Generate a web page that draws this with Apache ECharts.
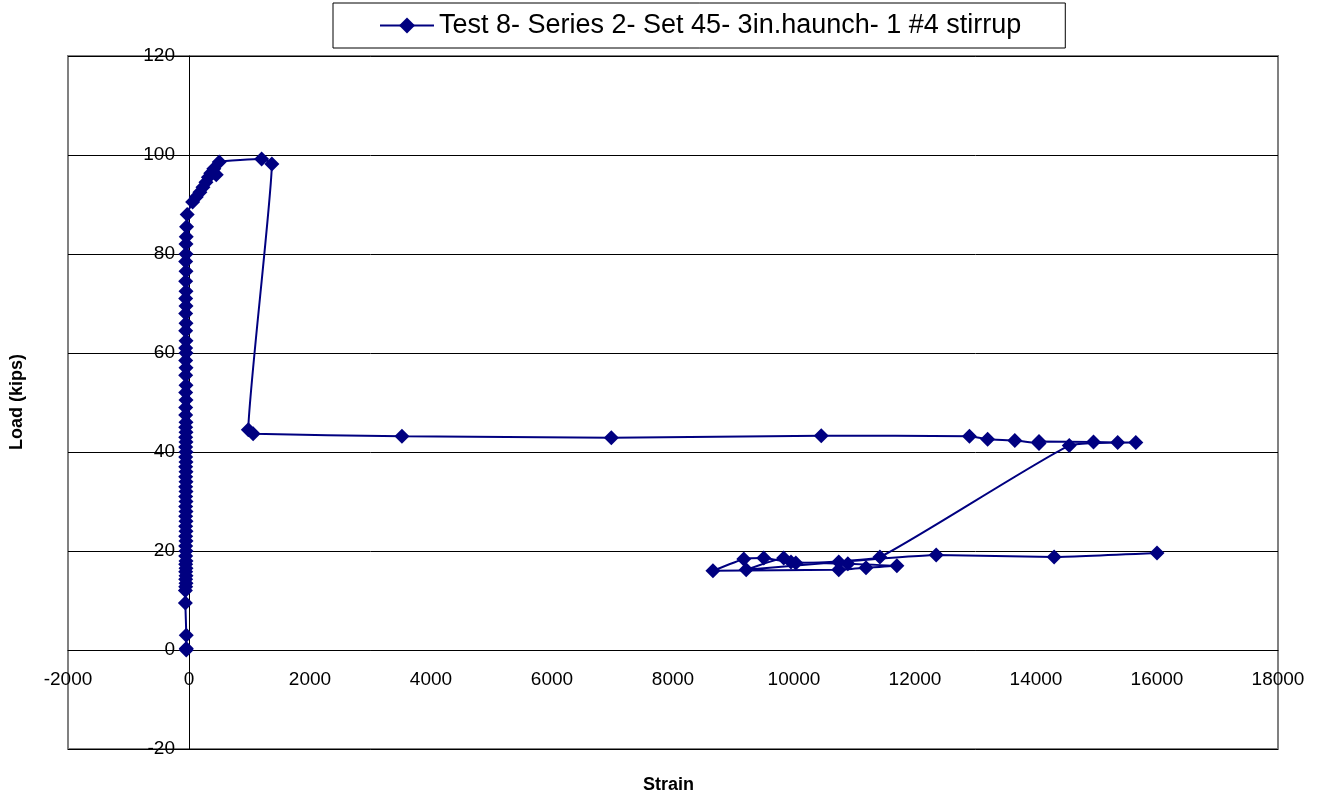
<!DOCTYPE html>
<html>
<head>
<meta charset="utf-8">
<title>Load vs Strain</title>
<script src="https://cdn.jsdelivr.net/npm/echarts@6/dist/echarts.min.js"></script>
<style>
  html, body { margin: 0; padding: 0; background: #fff; }
  #chart { width: 1323px; height: 802px; }
</style>
</head>
<body>
<div id="chart"></div>
<script>
// Strain gauge readings (microstrain) and applied load (kips), in recording order
const strain = [
  -45, -45, -45, -60, -60, -55, -50, -55, -50, -55, -50, -55, -50, -55, -50, -55,
  -50, -55, -50, -55, -50, -55, -50, -55, -50, -55, -50, -55, -50, -55, -50, -55,
  -50, -55, -50, -55, -50, -55, -50, -55, -50, -55, -55, -50, -55, -50, -55, -50,
  -55, -50, -55, -50, -55, -50, -55, -50, -55, -50, -55, -50, -55, -50, -50, -45,
  -40, -30,
  60, 120, 180, 230, 280, 320, 360, 410, 450, 500,
  1200, 1370, 980, 1060, 3520, 6980, 10450, 12900, 13200, 13650, 14050, 14050,
  14950, 15350, 15650, 14550,
  11420, 10030, 9500, 9170, 8660, 10740, 11190, 11700, 10890, 9950, 9830, 9210,
  10740, 12350, 14300, 16000
];
const load = [
  0, 0.3, 3.0, 9.5, 12.0, 12.8, 13.5, 14.3, 15.0, 15.8, 16.5, 17.3, 18.0, 19.0, 20.0, 21.0,
  22.0, 23.0, 24.0, 25.0, 26.0, 27.0, 28.0, 29.0, 30.0, 31.0, 32.0, 33.0, 34.0, 35.0, 36.0, 37.0,
  38.0, 39.0, 40.0, 41.0, 42.0, 43.0, 44.0, 45.0, 46.0, 47.5, 49.0, 50.5, 52.0, 53.5, 55.5, 57.0,
  58.5, 60.0, 61.0, 62.5, 64.5, 66.0, 68.0, 69.5, 71.0, 72.5, 74.5, 76.5, 78.5, 80.0, 82.0, 83.5,
  85.5, 88.0,
  90.5, 91.5, 92.5, 93.5, 94.5, 95.5, 96.3, 97.2, 96.0, 98.6,
  99.2, 98.2, 44.5, 43.7, 43.2, 42.9, 43.3, 43.2, 42.6, 42.3, 41.7, 42.1,
  42.0, 41.9, 41.9, 41.3,
  18.8, 17.6, 18.6, 18.4, 16.0, 16.2, 16.6, 17.0, 17.4, 17.8, 18.6, 16.2,
  17.8, 19.2, 18.8, 19.6
];

const seriesName = 'Test 8- Series 2- Set 45- 3in.haunch- 1 #4 stirrup';
const xTicks = { min: -2000, max: 18000, step: 2000 };
const yTicks = { min: -20, max: 120, step: 20 };

const points = strain.map((s, i) => [s, load[i]]);
const navy = '#000080';
const font = '"Liberation Sans", Arial, sans-serif';

// plot box geometry; axes cross at (0, 0) inside it
const gridBox = { left: 68, right: 45, top: 56, bottom: 53 };
const plotW = 1323 - gridBox.left - gridBox.right;
const plotH = 802 - gridBox.top - gridBox.bottom;
const yAxisShift = plotW * (0 - xTicks.min) / (xTicks.max - xTicks.min);
const xAxisShift = plotH * (0 - yTicks.min) / (yTicks.max - yTicks.min);

const chart = echarts.init(document.getElementById('chart'), null, { renderer: 'canvas' });
chart.setOption({
  animation: false,
  backgroundColor: '#ffffff',
  textStyle: { fontFamily: font },
  grid: {
    left: gridBox.left, right: gridBox.right, top: gridBox.top, bottom: gridBox.bottom,
    show: true,
    borderColor: '#808080',
    borderWidth: 2,
    backgroundColor: 'transparent'
  },
  legend: {
    left: 333, top: 3,
    padding: [9, 44, 9, 46],
    borderColor: '#000', borderWidth: 1,
    backgroundColor: '#fff',
    itemWidth: 54, itemHeight: 20,
    itemGap: 6,
    textStyle: { fontSize: 27, color: '#000', fontFamily: font },
    data: [seriesName]
  },
  xAxis: {
    type: 'value',
    position: 'bottom',
    offset: -xAxisShift,
    min: xTicks.min, max: xTicks.max, interval: xTicks.step,
    axisLine: { onZero: false, lineStyle: { color: '#000', width: 1 } },
    axisTick: { show: false },
    axisLabel: { color: '#000', fontSize: 19, margin: 20, fontFamily: font,
                 formatter: v => String(v) },
    splitLine: { show: false }
  },
  yAxis: {
    type: 'value',
    position: 'left',
    offset: -yAxisShift,
    min: yTicks.min, max: yTicks.max, interval: yTicks.step,
    axisLine: { onZero: false, lineStyle: { color: '#000', width: 1 } },
    axisTick: { show: true, length: 6, lineStyle: { color: '#000' } },
    axisLabel: { color: '#000', fontSize: 19, margin: 14, fontFamily: font,
                 formatter: v => String(v) },
    splitLine: { show: true, lineStyle: { color: '#000', width: 1 } }
  },
  graphic: [
    {
      type: 'text', left: 643, top: 776,
      style: { text: 'Strain', font: 'bold 18px ' + font, fill: '#000' }
    },
    {
      type: 'text', x: 8, y: 402, rotation: Math.PI / 2, originX: 0, originY: 0,
      style: { text: 'Load (kips)', font: 'bold 18px ' + font, fill: '#000',
               align: 'center', verticalAlign: 'top' }
    }
  ],
  series: [{
    name: seriesName,
    type: 'line',
    data: points,
    smooth: 0.12,
    symbol: 'diamond',
    symbolSize: 15,
    showAllSymbol: true,
    lineStyle: { color: navy, width: 2 },
    itemStyle: { color: navy, borderWidth: 0 },
    z: 3
  }]
});
</script>
</body>
</html>
